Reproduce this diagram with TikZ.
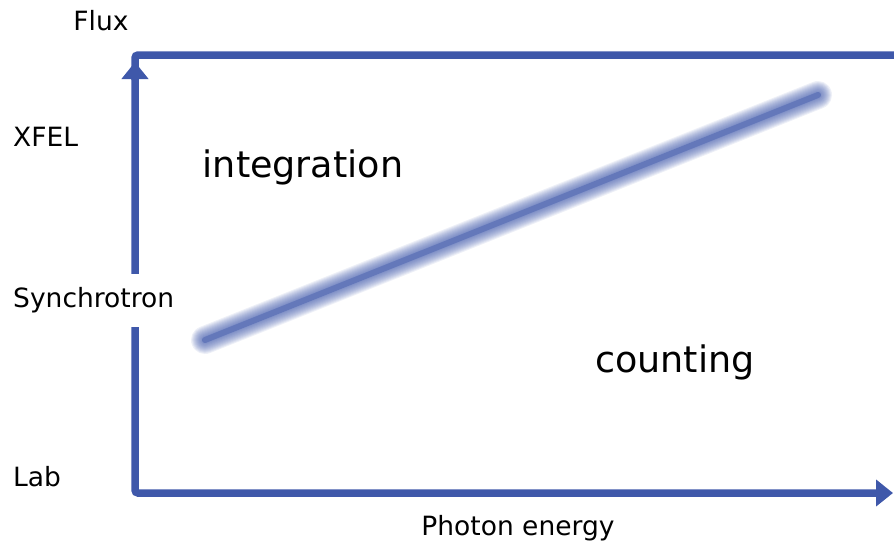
\documentclass[tikz,border=0pt]{standalone}
\usepackage{fontspec}
\setmainfont{DejaVu Sans}
\usepackage{tikz}
\usetikzlibrary{arrows.meta}

\definecolor{axisblue}{RGB}{63,88,170}

\begin{document}
\begin{tikzpicture}[
  x=1pt, y=-1pt,
  axis/.style={draw=axisblue, line width=7.5pt, rounded corners=3pt},
  ahead/.style={{Triangle[length=17pt,width=26pt]}-{Triangle[length=17pt,width=26pt]}},
  lbl/.style={inner sep=0pt, font=\fontsize{26.5}{30}\selectfont},
  region/.style={inner sep=0pt, font=\fontsize{36.5}{42}\selectfont},
  glow/.style={draw=axisblue, line cap=round}
]
\useasboundingbox (0,0) rectangle (894,542);

% corner points of the axes
\coordinate (orig) at (135,493);
\coordinate (ytip) at (135,62);
\coordinate (xtip) at (893,493);
\coordinate (topr) at (894,55);

% axes and upper frame line
\draw[axis, ahead] (ytip) |- (xtip);
\draw[axis] (135,80) |- (topr);

% blurred boundary line
\coordinate (lo) at (205,340);
\coordinate (hi) at (818,95);
\foreach \w in {28,26,...,6}
  \draw[glow, line width=\w pt, opacity=0.09] (lo) -- (hi);
\draw[glow, line width=6pt, opacity=0.4] (lo) -- (hi);

% axis labels
\node[lbl] (flux) at (101,21) {Flux};
\node[lbl, anchor=west] (xfel) at (13,137) {XFEL};
\node[lbl, anchor=west, fill=white, minimum height=53pt] (sync) at (13,300) {Synchrotron};
\node[lbl, anchor=west] (lab) at (13,477) {Lab};
\node[lbl] (energy) at (518,528) {Photon energy};

% regions
\node[region] (integ) at (303,167) {integration};
\node[region] (count) at (675,362) {counting};

\end{tikzpicture}
\end{document}
